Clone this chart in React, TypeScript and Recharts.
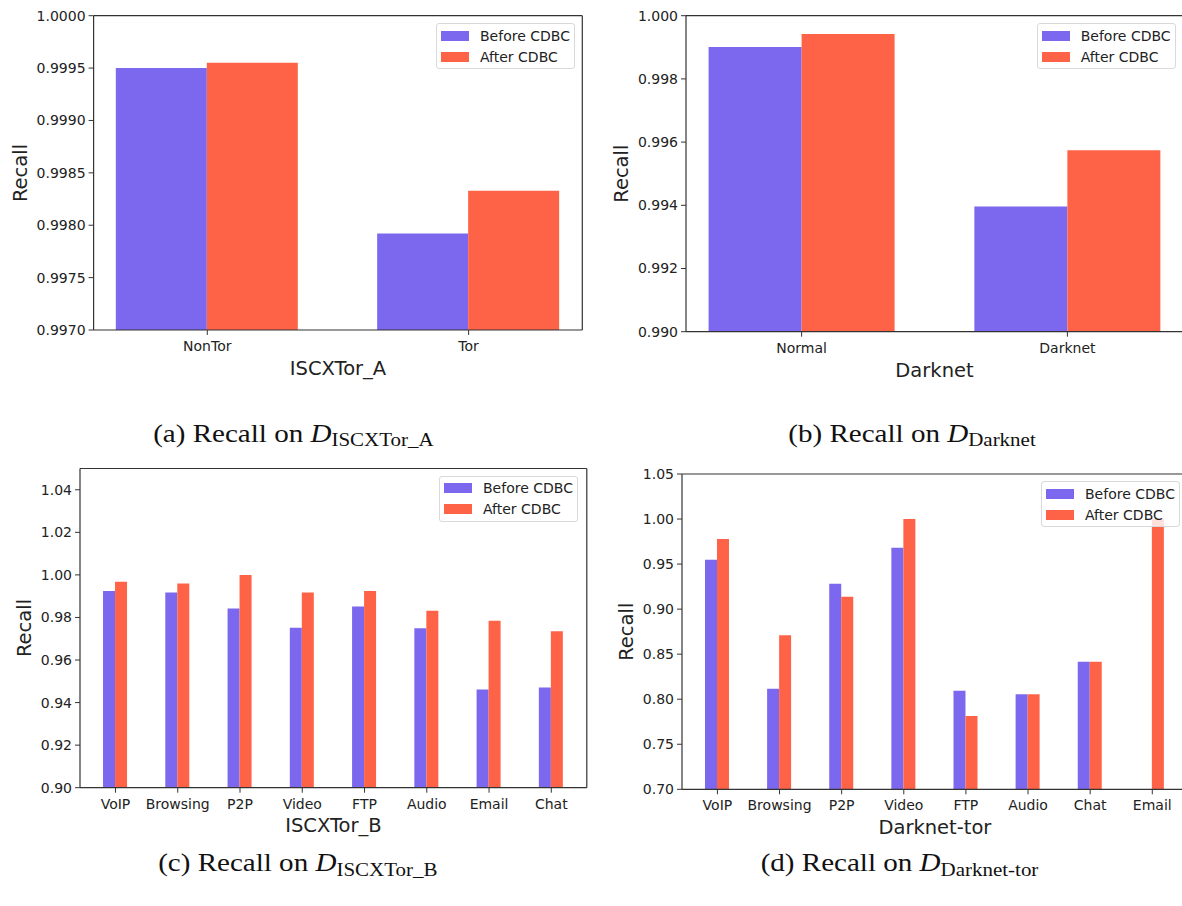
import React from "react";
import { BarChart, Bar, XAxis, YAxis, Legend } from "recharts";

const BEFORE = "#7B68EE";
const AFTER = "#FF6347";
const INK = "#222";
const SPINE = "#333";
const FONT = "'DejaVu Sans', sans-serif";
const SERIF = "'Liberation Serif', 'Times New Roman', serif";
const SERIES = ["Before CDBC", "After CDBC"];

// (a) ISCXTor_A
const catsA = ["NonTor", "Tor"];
const beforeA = [0.9995, 0.99792];
const afterA = [0.99955, 0.99833];
const ticksA = [0.997, 0.9975, 0.998, 0.9985, 0.999, 0.9995, 1.0];
const rangeA = [0.997, 1.0];

// (b) Darknet
const catsB = ["Normal", "Darknet"];
const beforeB = [0.99901, 0.99396];
const afterB = [0.99942, 0.99574];
const ticksB = [0.99, 0.992, 0.994, 0.996, 0.998, 1.0];
const rangeB = [0.99, 1.0];

// (c) ISCXTor_B
const catsC = ["VoIP", "Browsing", "P2P", "Video", "FTP", "Audio", "Email", "Chat"];
const beforeC = [0.9924, 0.9917, 0.9842, 0.9752, 0.9851, 0.9749, 0.9461, 0.9471];
const afterC = [0.9968, 0.9959, 1.0, 0.9917, 0.9924, 0.9832, 0.9784, 0.9735];
const ticksC = [0.9, 0.92, 0.94, 0.96, 0.98, 1.0, 1.02, 1.04];
const rangeC = [0.9, 1.05];

// (d) Darknet-tor
const catsD = ["VoIP", "Browsing", "P2P", "Video", "FTP", "Audio", "Chat", "Email"];
const beforeD = [0.9549, 0.8117, 0.9283, 0.9682, 0.8095, 0.8054, 0.8417, null];
const afterD = [0.9778, 0.8709, 0.9138, 1.0, 0.7814, 0.8054, 0.8417, 1.0];
const ticksD = [0.7, 0.75, 0.8, 0.85, 0.9, 0.95, 1.0, 1.05];
const rangeD = [0.7, 1.05];

const YTitle = ({ tx, ty, text }: any) => (
  <text
    x={tx}
    y={ty}
    transform={`rotate(-90 ${tx} ${ty})`}
    textAnchor="middle"
    dominantBaseline="central"
    fontSize={19.5}
    fill={INK}
    fontFamily={FONT}
  >
    {text}
  </text>
);

const XTitle = ({ tx, ty, text }: any) => (
  <text x={tx} y={ty} textAnchor="middle" fontSize={19.5} fill={INK} fontFamily={FONT}>
    {text}
  </text>
);

const LegendBox = ({ payload }: any) => {
  const items = [...(payload || [])].sort(
    (a: any, b: any) => SERIES.indexOf(a.value) - SERIES.indexOf(b.value)
  );
  return (
    <div
      style={{
        position: "relative",
        width: 139,
        height: 46,
        boxSizing: "border-box",
        border: "1px solid #d9d9d9",
        borderRadius: 3,
        background: "rgba(255,255,255,0.8)",
        fontFamily: FONT,
        fontSize: 14,
        color: INK,
      }}
    >
      {items.map((p: any, i: number) => (
        <div
          key={i}
          style={{
            position: "absolute",
            left: 4,
            top: 5.5 + i * 21,
            height: 12,
            display: "flex",
            alignItems: "center",
            whiteSpace: "nowrap",
          }}
        >
          <span style={{ display: "inline-block", width: 28, height: 10, background: p.color }} />
          <span style={{ marginLeft: 11, lineHeight: "12px" }}>{p.value}</span>
        </div>
      ))}
    </div>
  );
};

type Box = {
  left: number;
  top: number;
  width: number;
  height: number;
  margin: { top: number; right: number; bottom: number; left: number };
  yWidth: number;
  yTitle: [number, number];
  xTitle: [number, number];
  legend: [number, number];
};

type PanelProps = {
  cats: string[];
  before: (number | null)[];
  after: number[];
  yTicks: number[];
  yRange: number[];
  digits: number;
  xLabel: string;
  pad: number;
  gap: string;
  box: Box;
};

function Panel({ cats, before, after, yTicks, yRange, digits, xLabel, pad, gap, box }: PanelProps) {
  const data = cats.map((name, i) => ({ x: i, name, before: before[i], after: after[i] }));
  const xDomain = [-pad, cats.length - 1 + pad];
  // the top / right axes only draw the frame, they take 1px each
  const margin = {
    ...box.margin,
    top: box.margin.top - 1,
    right: box.margin.right - 1,
  };
  return (
    <div style={{ position: "absolute", left: box.left, top: box.top }}>
      <BarChart
        width={box.width}
        height={box.height}
        data={data}
        margin={margin}
        barCategoryGap={gap}
        barGap={0}
        style={{ fontFamily: FONT }}
      >
        <XAxis
          dataKey="x"
          type="number"
          domain={xDomain}
          allowDataOverflow
          ticks={cats.map((_, i) => i)}
          interval={0}
          tickFormatter={(v: number) => cats[Math.round(v)]}
          height={30}
          tickSize={5}
          tickMargin={6}
          tick={{ fontSize: 14, fill: INK, fontFamily: FONT }}
          axisLine={{ stroke: SPINE, strokeWidth: 1.2 }}
          tickLine={{ stroke: SPINE }}
          label={<XTitle tx={box.xTitle[0]} ty={box.xTitle[1]} text={xLabel} />}
        />
        <XAxis
          xAxisId="top"
          dataKey="x"
          orientation="top"
          type="number"
          domain={xDomain}
          allowDataOverflow
          height={1}
          tick={false}
          tickLine={false}
          axisLine={{ stroke: SPINE, strokeWidth: 1.2 }}
        />
        <YAxis
          type="number"
          domain={yRange}
          allowDataOverflow
          ticks={yTicks}
          interval={0}
          tickFormatter={(v: number) => v.toFixed(digits)}
          width={box.yWidth}
          tickSize={5}
          tickMargin={3}
          tick={{ fontSize: 14, fill: INK, fontFamily: FONT }}
          axisLine={{ stroke: SPINE, strokeWidth: 1.2 }}
          tickLine={{ stroke: SPINE }}
          label={<YTitle tx={box.yTitle[0]} ty={box.yTitle[1]} text="Recall" />}
        />
        <YAxis
          yAxisId="right"
          orientation="right"
          type="number"
          domain={yRange}
          allowDataOverflow
          width={1}
          tick={false}
          tickLine={false}
          axisLine={{ stroke: SPINE, strokeWidth: 1.2 }}
        />
        <Bar dataKey="before" name={SERIES[0]} fill={BEFORE} isAnimationActive={false} />
        <Bar dataKey="after" name={SERIES[1]} fill={AFTER} isAnimationActive={false} />
        <Legend
          content={<LegendBox />}
          layout="horizontal"
          verticalAlign="middle"
          align="center"
          wrapperStyle={{ left: box.legend[0], top: box.legend[1], width: 139, height: 46 }}
        />
      </BarChart>
    </div>
  );
}

const Caption = ({ cx, y, letter, sub }: any) => (
  <text
    transform={`translate(${cx} ${y}) scale(1.14 1)`}
    textAnchor="middle"
    fontFamily={SERIF}
    fontSize={25.5}
    fill="#111"
  >
    {`(${letter}) Recall on `}
    <tspan fontStyle="italic">D</tspan>
    <tspan fontSize={18.4} dy={4.5}>
      {sub}
    </tspan>
  </text>
);

export default function App() {
  return (
    <div
      style={{
        position: "absolute",
        left: 0,
        top: 0,
        width: 1182,
        height: 906,
        overflow: "hidden",
        background: "#fff",
      }}
    >
      <Panel
        cats={catsA}
        before={beforeA}
        after={afterA}
        yTicks={ticksA}
        yRange={rangeA}
        digits={4}
        xLabel="ISCXTor_A"
        pad={0.435}
        gap="15%"
        box={{
          left: 0,
          top: 0,
          width: 590,
          height: 400,
          margin: { top: 15.7, right: 7.7, bottom: 40, left: 0 },
          yWidth: 93.6,
          yTitle: [20.7, 173],
          xTitle: [338, 375],
          legend: [436, 23.3],
        }}
      />
      <Panel
        cats={catsB}
        before={beforeB}
        after={afterB}
        yTicks={ticksB}
        yRange={rangeB}
        digits={3}
        xLabel="Darknet"
        pad={0.435}
        gap="15%"
        box={{
          left: 590,
          top: 0,
          width: 600,
          height: 400,
          margin: { top: 15.7, right: 7, bottom: 38.3, left: 0 },
          yWidth: 96,
          yTitle: [32, 173.7],
          xTitle: [344.5, 377],
          legend: [446.7, 23.3],
        }}
      />
      <Panel
        cats={catsC}
        before={beforeC}
        after={afterC}
        yTicks={ticksC}
        yRange={rangeC}
        digits={2}
        xLabel="ISCXTor_B"
        pad={0.57}
        gap="30%"
        box={{
          left: 0,
          top: 440,
          width: 590,
          height: 420,
          margin: { top: 28.5, right: 3.2, bottom: 42.3, left: 0 },
          yWidth: 80,
          yTitle: [24.5, 188],
          xTitle: [333.4, 392],
          legend: [439, 35.7],
        }}
      />
      <Panel
        cats={catsD}
        before={beforeD}
        after={afterD}
        yTicks={ticksD}
        yRange={rangeD}
        digits={2}
        xLabel="Darknet-tor"
        pad={0.57}
        gap="30%"
        box={{
          left: 590,
          top: 440,
          width: 600,
          height: 420,
          margin: { top: 34, right: 2.3, bottom: 40.7, left: 0 },
          yWidth: 92,
          yTitle: [36.6, 191.7],
          xTitle: [344.9, 393.7],
          legend: [451, 41],
        }}
      />
      <svg
        width={1182}
        height={906}
        style={{ position: "absolute", left: 0, top: 0, pointerEvents: "none" }}
      >
        <Caption cx={293.4} y={441.7} letter="a" sub="ISCXTor_A" />
        <Caption cx={912} y={441.7} letter="b" sub="Darknet" />
        <Caption cx={297.8} y={871} letter="c" sub="ISCXTor_B" />
        <Caption cx={899.5} y={871} letter="d" sub="Darknet-tor" />
      </svg>
    </div>
  );
}
